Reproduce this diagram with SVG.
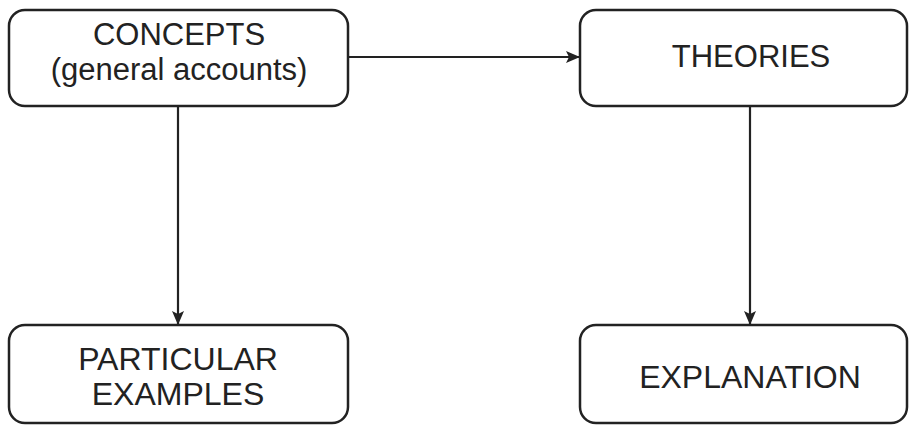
<svg xmlns="http://www.w3.org/2000/svg" width="909" height="425" viewBox="0 0 909 425">
<defs>
<style>
.box{fill:#fff;stroke:#222;stroke-width:2.5}
.lbl{font-family:"Liberation Sans",Arial,sans-serif;font-size:31px;fill:#222;text-anchor:middle}
.conn{stroke:#222;stroke-width:2.2;fill:none}
</style>
<marker id="ah" viewBox="0 0 14 12" refX="14" refY="6" markerWidth="14" markerHeight="12" markerUnits="userSpaceOnUse" orient="auto">
<path d="M0,0 L14,6 L0,12 L3,6 Z" fill="#222"/>
</marker>
</defs>
<rect width="909" height="425" fill="#fff"/>
<g id="connectors">
<line class="conn" x1="348" y1="57" x2="580" y2="57" marker-end="url(#ah)"/>
<line class="conn" x1="178" y1="106" x2="178" y2="325" marker-end="url(#ah)"/>
<line class="conn" x1="750" y1="106" x2="750" y2="325" marker-end="url(#ah)"/>
</g>
<g id="concepts">
<rect class="box" x="9" y="10" width="339" height="96" rx="16" ry="16"/>
<text class="lbl" x="179" y="45">CONCEPTS</text>
<text class="lbl" x="179" y="80">(general accounts)</text>
</g>
<g id="theories">
<rect class="box" x="580" y="10" width="327" height="96" rx="16" ry="16"/>
<text class="lbl" x="751" y="67">THEORIES</text>
</g>
<g id="particular">
<rect class="box" x="9" y="325" width="339" height="98" rx="16" ry="16"/>
<text class="lbl" x="178" y="370" style="font-size:32px">PARTICULAR</text>
<text class="lbl" x="178" y="405" style="font-size:32px">EXAMPLES</text>
</g>
<g id="explanation">
<rect class="box" x="580" y="325" width="327" height="98" rx="16" ry="16"/>
<text class="lbl" x="750" y="388" style="font-size:32px">EXPLANATION</text>
</g>
</svg>
